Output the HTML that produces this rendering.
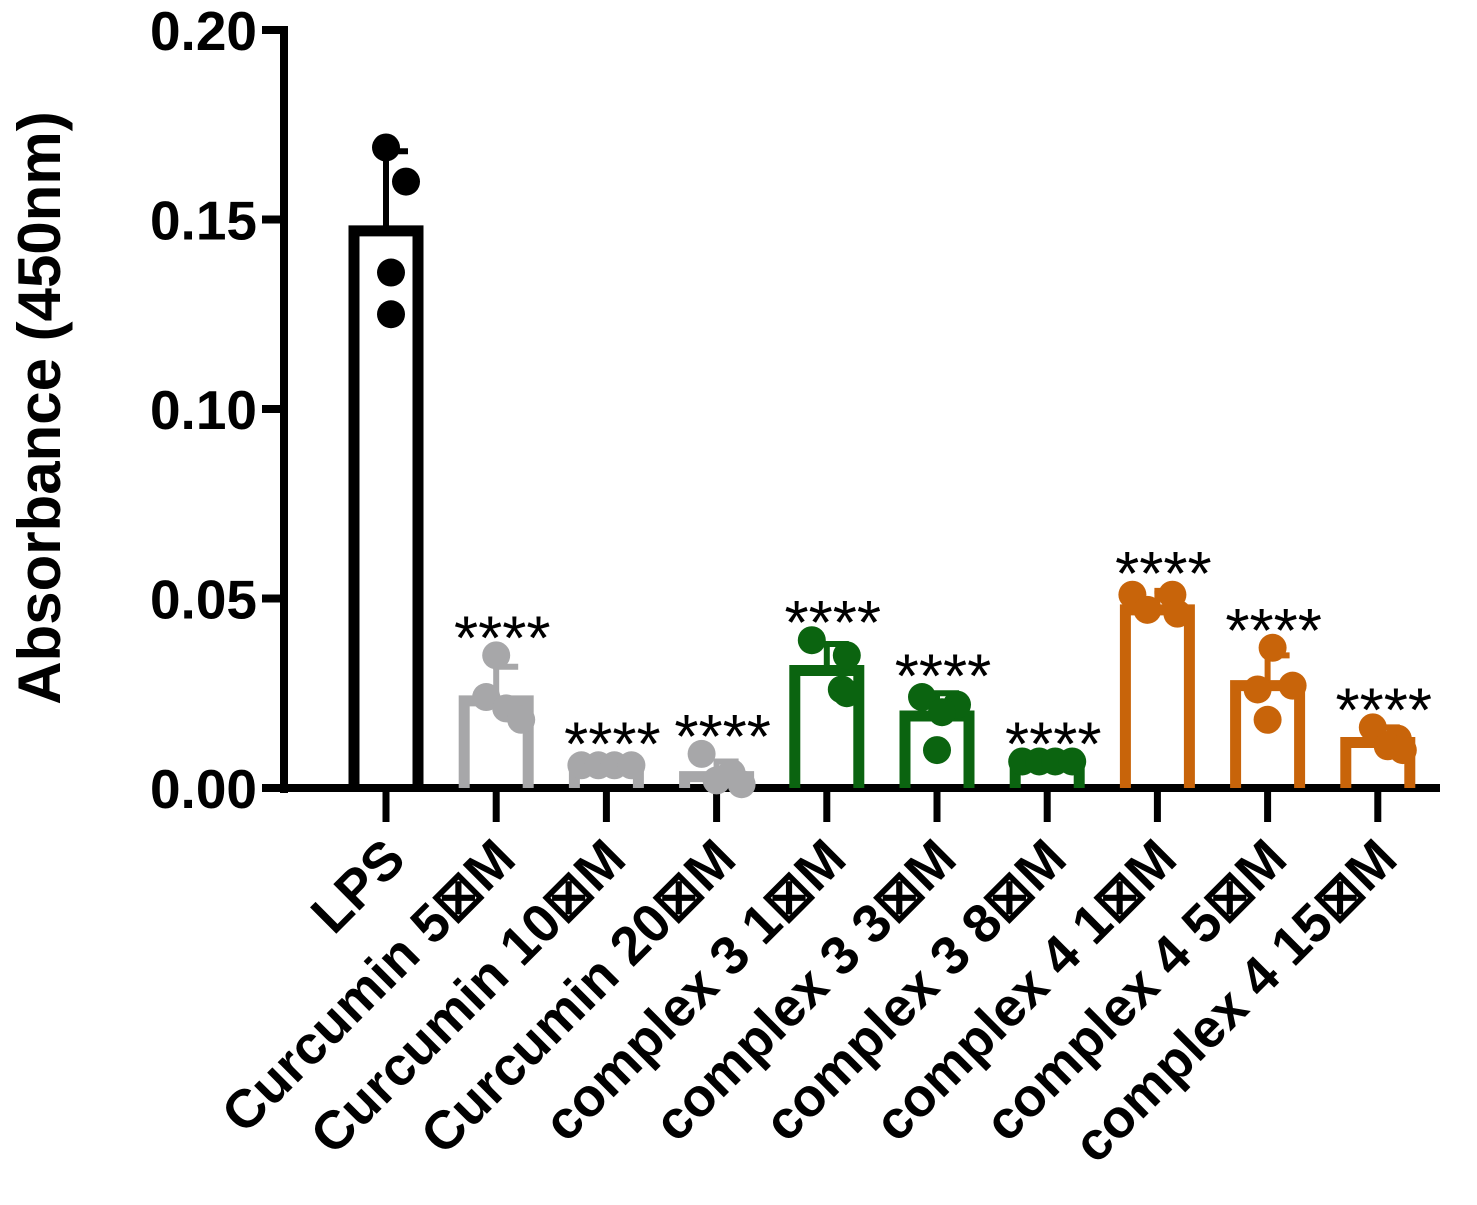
<!DOCTYPE html>
<html><head><meta charset="utf-8"><style>
body{margin:0;background:#fff}
svg text{font-family:"Liberation Sans",Arial,sans-serif;font-weight:bold}
</style></head><body>
<svg id="c" width="1477" height="1200"></svg>
<script>
const categories=["LPS","Curcumin 5⊠M","Curcumin 10⊠M","Curcumin 20⊠M","complex 3 1⊠M","complex 3 3⊠M","complex 3 8⊠M","complex 4 1⊠M","complex 4 5⊠M","complex 4 15⊠M"];
const means=[0.147,0.023,0.006,0.003,0.031,0.019,0.006,0.047,0.027,0.012];
const errs=[0.021,0.009,0.001,0.004,0.007,0.006,0.001,0.005,0.008,0.004];
const points=[[0.169,0.160,0.136,0.125],[0.035,0.024,0.021,0.018],[0.006,0.006,0.006,0.006],[0.009,0.004,0.002,0.001],[0.039,0.035,0.026,0.025],[0.024,0.022,0.020,0.010],[0.007,0.007,0.007,0.007],[0.051,0.051,0.047,0.046],[0.037,0.027,0.026,0.018],[0.016,0.013,0.011,0.010]];
const yTicks=[0,0.05,0.10,0.15,0.20];
const yTickLabels=["0.00","0.05","0.10","0.15","0.20"];
const colors=["#000","#a7a7a9","#a7a7a9","#a7a7a9","#0b6410","#0b6410","#0b6410","#c8640a","#c8640a","#c8640a"];
const stars=[false,true,true,true,true,true,true,true,true,true];
const svg=document.getElementById('c');const NS='http://www.w3.org/2000/svg';
function y(v){return 788-v*3790;}
function x(i){return 386+i*110.2;}
function el(t,a,p){const e=document.createElementNS(NS,t);for(const k in a)e.setAttribute(k,a[k]);(p||svg).appendChild(e);return e;}
const ax=el('line',{x1:284,y1:26,x2:284,y2:793,stroke:'#000','stroke-width':8});


yTicks.forEach((t,i)=>{
 const l=el('line',{x1:262,y1:y(t),x2:284,y2:y(t),stroke:'#000','stroke-width':8});
 
 
 const tx=el('text',{x:257,y:y(t)+20,'text-anchor':'end','font-size':55});
 tx.textContent=yTickLabels[i];
 
 
});
const yt=el('text',{x:0,y:0,'font-size':60,'text-anchor':'middle',transform:'translate(60,408) rotate(-90)'});
yt.textContent='Absorbance (450nm)';


const xa=el('line',{x1:280,y1:788,x2:1440,y2:788,stroke:'#000','stroke-width':8});


categories.forEach((c,i)=>{
 const cx=x(i),col=colors[i];
 const tk=el('line',{x1:cx,y1:788,x2:cx,y2:822,stroke:'#000','stroke-width':7});
 
 
 const g=el('g',{});
 
 
 const top=y(means[i]);
 el('line',{x1:cx,y1:top,x2:cx,y2:y(means[i]+errs[i]),stroke:col,'stroke-width':6},g);
 el('line',{x1:cx-3,y1:y(means[i]+errs[i]),x2:cx+22,y2:y(means[i]+errs[i]),stroke:col,'stroke-width':6},g);
 el('path',{d:`M${cx-32},788 V${top} H${cx+32} V788`,fill:'none',stroke:col,'stroke-width':11},g);
 const dx=[[0,20,5,5],[0,-10,10,25],[-25,-8,8,25],[-15,15,0,25],[-15,20,15,20],[-15,20,5,0],[-25,-8,8,25],[-25,15,-10,20],[5,25,-10,0],[-5,20,10,25]];
 points[i].forEach((p,j)=>{
  const d=el('circle',{cx:cx+dx[i][j],cy:y(p),r:14,fill:col},g);
  
  
 });
 if(stars[i]){
  const m=Math.max(...points[i],means[i]+errs[i]);
  const s=el('text',{x:cx+6,y:y(m)+4,'text-anchor':'middle','font-size':62});
  s.style.fontWeight='normal';
  s.textContent='****';
  
  
 }
 const lb=el('text',{x:0,y:0,'text-anchor':'end','font-size':54,transform:`translate(${cx+22},${862}) rotate(-45)`});
 lb.textContent=c;
 
 
});
</script>
</body></html>
